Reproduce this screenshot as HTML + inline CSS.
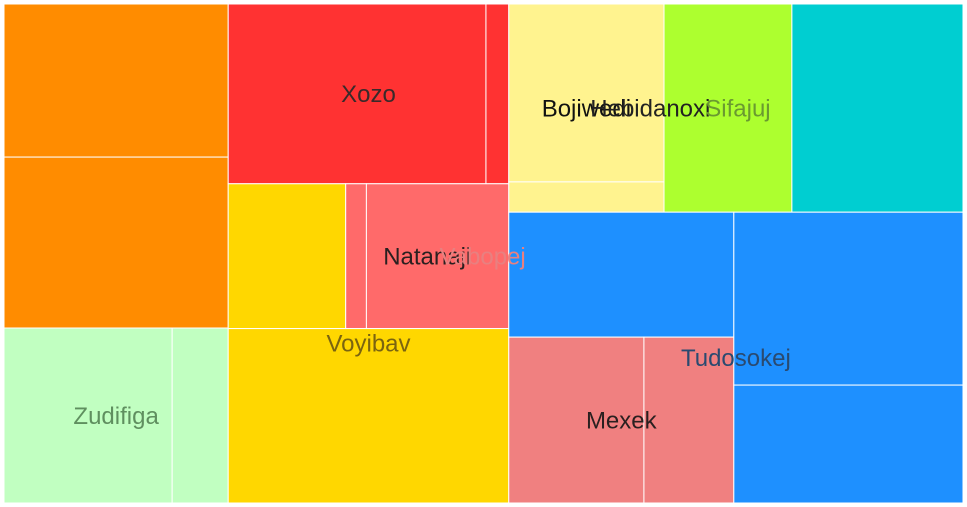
<!DOCTYPE html>
<html><head><meta charset="utf-8"><style>
html,body{margin:0;padding:0;background:#fff;}
svg{display:block;font-family:"Liberation Sans",sans-serif;}
</style></head><body>
<svg id="chart" width="967" height="507"></svg>
<script>
const leafNames = ["orange-a","orange-b","zudifiga-a","zudifiga-b","xozo-a","xozo-b","voyibav-a","vabopej-a","vabopej-b","voyibav-b","bojiwedi-a","bojiwedi-b","sifajuj","hebidanoxi","tudosokej-a","mexek-a","mexek-b","tudosokej-b","tudosokej-c"];
const leafValues = [343,383,294,98,463,41,170,30,206,489,276,47,266,356,281,224,149,396,270];
const leafColors = ["#FF8C00","#FF8C00","#C1FFC1","#C1FFC1","#FF3232","#FF3232","#FFD700","#FF6A6A","#FF6A6A","#FFD700","#FFF38F","#FFF38F","#ADFF2F","#00CED1","#1E90FF","#F08080","#F08080","#1E90FF","#1E90FF"];
const labelTexts = ["Xozo","Voyibav","Zudifiga","Tudosokej","Mexek","Natanaji","Vabopej","Bojiwedi","Hebidanoxi","Sifajuj"];
const labelLeaves = [[4,5],[6,9],[2,3],[14,17,18],[15,16],[7,8],[8],[10,11],[10,11,12],[12]];
const labelColors = ["#3a2a2a","#7a6410","#5f8f5f","#2a4a70","#2a2020","#2a2020","#e88080","#111","#222","#6a9a30"];
const labelDx = [0,0,0,0,0,0,45,0,0,10];

const tree = {d:'h',c:[
  {d:'v',c:[{d:'v',c:[0,1]},{d:'h',c:[2,3]}]},
  {d:'v',c:[{d:'h',c:[4,5]},{d:'h',c:[6,{d:'h',c:[7,8]}]},9]},
  {d:'v',c:[
    {d:'h',c:[{d:'v',c:[10,11]},12,13]},
    {d:'h',c:[{d:'v',c:[14,{d:'h',c:[15,16]}]},{d:'v',c:[17,18]}]}
  ]}
]};
function total(n){return typeof n==='number'?leafValues[n]:n.c.reduce((s,x)=>s+total(x),0);}
const rects=[];
function layout(n,x,y,w,h){
  if(typeof n==='number'){rects[n]={x,y,w,h};return;}
  const t=total(n);let off=0;
  n.c.forEach(ch=>{const f=total(ch)/t;
    if(n.d==='h'){layout(ch,x+off,y,w*f,h);off+=w*f;}
    else{layout(ch,x,y+off,w,h*f);off+=h*f;}});
}
layout(tree,4,4,959,499);
const svg=document.getElementById('chart');const NS="http://www.w3.org/2000/svg";
rects.forEach((r,i)=>{
  const e=document.createElementNS(NS,'rect');
  e.setAttribute('x',r.x);e.setAttribute('y',r.y);e.setAttribute('width',r.w);e.setAttribute('height',r.h);
  e.setAttribute('fill',leafColors[i]);e.setAttribute('stroke','#fff');e.setAttribute('stroke-width','1');
  
  
  svg.appendChild(e);
});
labelTexts.forEach((txt,i)=>{
  let x0=1e9,y0=1e9,x1=-1e9,y1=-1e9;
  labelLeaves[i].forEach(k=>{const r=rects[k];x0=Math.min(x0,r.x);y0=Math.min(y0,r.y);x1=Math.max(x1,r.x+r.w);y1=Math.max(y1,r.y+r.h);});
  const t=document.createElementNS(NS,'text');
  t.setAttribute('x',(x0+x1)/2+labelDx[i]);t.setAttribute('y',(y0+y1)/2+2);
  t.setAttribute('text-anchor','middle');t.setAttribute('dominant-baseline','middle');
  t.setAttribute('font-size','24');t.setAttribute('fill',labelColors[i]);
  t.textContent=txt;
  
  
  svg.appendChild(t);
});
</script>
</body></html>
